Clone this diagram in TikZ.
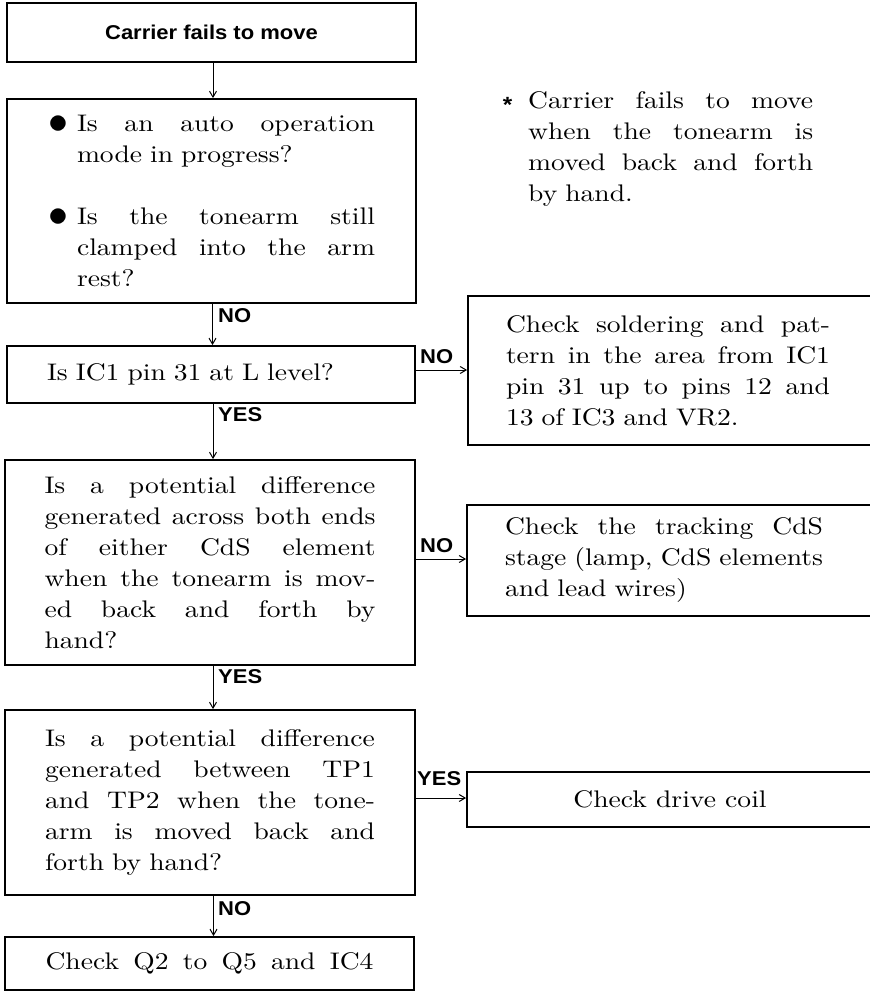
\documentclass[tikz,border=0pt]{standalone}
\usepackage{fontspec}
\setmainfont{lmroman10-regular.otf}[FakeStretch=1.15]
\newfontfamily\labfont{Liberation Sans}[FakeStretch=1.1]
\usetikzlibrary{arrows.meta}
\newcommand\jl[2]{\leavevmode{\spaceskip=0.3em plus 1fil\relax\hbox to #1{#2}}}
\newcommand\bul{\makebox[29pt][l]{\raisebox{-2pt}{\scalebox{1.6}{$\bullet$}}}}
\tikzset{
  box/.style={draw, line width=1.8pt, rectangle, inner sep=0pt, align=left,
    font=\rmfamily\fontsize{24}{31}\selectfont},
  lab/.style={font=\labfont\bfseries\fontsize{20}{22}\selectfont, inner sep=0pt},
  arr/.style={-{Straight Barb[length=6pt,width=7pt]}, line width=1pt}
}
\begin{document}
\begin{tikzpicture}[x=1pt,y=-1pt]
\useasboundingbox (0,0) rectangle (870,991);
\fill[white] (0,0) rectangle (870,991);

% left column
\node[box, minimum width=409pt, minimum height=59pt, line width=2.4pt, align=center,
  font=\labfont\bfseries\fontsize{20}{24}\selectfont] (b1) at (211.5,32.5) {Carrier fails to move};

\node[box, minimum width=409pt, minimum height=204pt, text width=327pt] (b2) at (211.5,201)
{\bul\jl{298pt}{Is an auto operation}\\
\hspace*{29pt}mode in progress?\\[31pt]
\bul\jl{298pt}{Is the tonearm still}\\
\hspace*{29pt}\jl{298pt}{clamped into the arm}\\
\hspace*{29pt}rest?};

\node[box, minimum width=408pt, minimum height=57pt, text width=328pt] (b3) at (211,374.5)
{Is IC1 pin 31 at L level?};

\node[box, minimum width=410pt, minimum height=205pt, text width=331pt] (b4) at (210,562.5)
{\jl{331pt}{Is a potential difference}\\
\jl{331pt}{generated across both ends}\\
\jl{331pt}{of either CdS element}\\
\jl{331pt}{when the tonearm is mov-}\\
\jl{331pt}{ed back and forth by}\\
hand?};

\node[box, minimum width=410pt, minimum height=185pt, text width=330pt] (b5) at (210,802.5)
{\jl{330pt}{Is a potential difference}\\
\jl{330pt}{generated between TP1}\\
\jl{330pt}{and TP2 when the tone-}\\
\jl{330pt}{arm is moved back and}\\
forth by hand?};

\node[box, minimum width=409pt, minimum height=53pt, text width=328pt] (b6) at (209.5,963.5)
{\jl{328pt}{Check Q2 to Q5 and IC4}};

% right column
\node[box, minimum width=405pt, minimum height=149pt, text width=329pt] (rA) at (670.5,370.5)
{\jl{324pt}{Check soldering and pat-}\\
\jl{324pt}{tern in the area from IC1}\\
\jl{324pt}{pin 31 up to pins 12 and}\\
13 of IC3 and VR2.};

\node[box, minimum width=406pt, minimum height=111pt, text width=330pt] (rB) at (670,560.5)
{\jl{318pt}{Check the tracking CdS}\\
\jl{318pt}{stage (lamp, CdS elements}\\
and lead wires)};

\node[box, minimum width=406pt, minimum height=55pt, align=center] (rC) at (670,799.5)
{Check drive coil};

% note
\node[anchor=north west, inner sep=0pt, align=left, text width=290pt,
  font=\rmfamily\fontsize{24}{31}\selectfont] (note) at (528,91)
{\llap{\raisebox{-4pt}{\labfont\bfseries\fontsize{22}{24}\selectfont *}\hspace{16pt}}\jl{285pt}{Carrier fails to move}\\
\jl{285pt}{when the tonearm is}\\
\jl{285pt}{moved back and forth}\\
by hand.};

% connectors
\draw[arr] ([xshift=1.5pt]b1.south) -- ([xshift=1.5pt]b2.north);
\draw[arr] ([xshift=1pt]b2.south) -- ([xshift=1pt]b2.south |- b3.north);
\draw[arr] ([xshift=2pt]b3.south) -- ([xshift=2pt]b3.south |- b4.north);
\draw[arr] ([xshift=3pt]b4.south) -- ([xshift=3pt]b4.south |- b5.north);
\draw[arr] ([xshift=3.5pt]b5.south) -- ([xshift=3.5pt]b5.south |- b6.north);
\draw[arr] ([yshift=4.5pt]b3.east) -- ([yshift=4.5pt]b3.east -| rA.west);
\draw[arr] ([yshift=3.5pt]b4.east) -- ([yshift=3.5pt]b4.east -| rB.west);
\draw[arr] ([yshift=4.5pt]b5.east) -- ([yshift=4.5pt]b5.east -| rC.west);

% labels
\node[lab, anchor=base west] (l1) at (218,322) {NO};
\node[lab, anchor=base west] (l2) at (218,421) {YES};
\node[lab, anchor=base west] (l3) at (420,363) {NO};
\node[lab, anchor=base west] (l4) at (218,683) {YES};
\node[lab, anchor=base west] (l5) at (420,552) {NO};
\node[lab, anchor=base west] (l6) at (417,785) {YES};
\node[lab, anchor=base west] (l7) at (218,915) {NO};
\end{tikzpicture}
\end{document}
